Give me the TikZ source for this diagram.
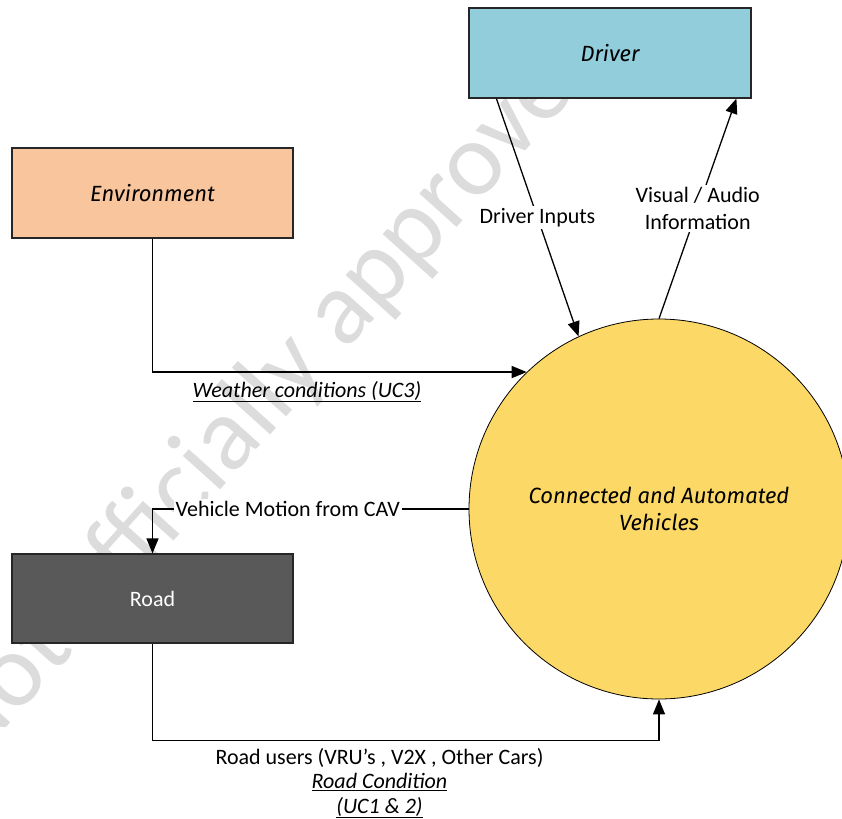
\documentclass[tikz,border=0pt]{standalone}
\usepackage{fontspec}
\setmainfont{Carlito}
\newfontfamily\boxfont{Fira Sans}
\usetikzlibrary{arrows.meta,calc}

\definecolor{driverblue}{HTML}{92CDDC}
\definecolor{envpeach}{HTML}{F8C59C}
\definecolor{roadgray}{HTML}{595959}
\definecolor{cavyellow}{HTML}{FCD866}
\definecolor{wmgray}{HTML}{DCDCDC}

\begin{document}
\begin{tikzpicture}[x=1pt,y=-1pt,
  box/.style={draw=black!85, line width=1.2pt, minimum width=281pt,
    minimum height=90pt, inner sep=0pt},
  boxtext/.style={font=\boxfont\itshape\fontsize{22}{27}\selectfont},
  lbl/.style={font=\fontsize{22}{27}\selectfont, inner sep=2pt},
  whitelbl/.style={lbl, fill=white},
  flow/.style={line width=1.3pt, -{Triangle[length=15pt,width=12pt]}},
  plain/.style={line width=1.3pt}]

\useasboundingbox (0,0) rectangle (842,818);

% faint watermark lettering behind the diagram
\begin{scope}
  \clip (0,0) rectangle (842,818);
  \node[rotate=48, anchor=base west, inner sep=0pt, text=wmgray,
        font=\fontsize{105}{105}\selectfont] (wm) at (-30,768)
        {Not officially approved};
\end{scope}

% entities
\node[box, fill=driverblue, minimum width=282pt, boxtext] (driver) at (610,53) {Driver};
\node[box, fill=envpeach, boxtext] (env) at (152.5,193) {Environment};
\node[box, fill=roadgray, minimum height=89pt, text=white, lbl] (road) at (152.5,598.5) {Road};
\node[circle, draw=black, line width=0.8pt, fill=cavyellow, minimum size=380pt,
      inner sep=0pt, align=center, boxtext] (cav) at (659,509)
      {Connected and Automated\\Vehicles};

% flows
\draw[flow] (env.south) |- (cav.134.4);
\node[lbl, anchor=base] (weather) at (307,397) {\itshape\underline{Weather conditions (UC3)}};

\draw[flow] ($(driver.south west)+(28,0)$)
  -- node[whitelbl] (dinp) {Driver Inputs} (cav.115.5);

\draw[flow] (cav.north)
  -- node[whitelbl, align=center] (vis) {Visual / Audio\\Information}
  ($(driver.south west)+(268,0)$);

\draw[flow] (cav.west)
  -| node[whitelbl, pos=0.286] (vmot) {Vehicle Motion from CAV} (road.north);

\draw[flow] (road.south) |- ($(cav.south)+(0,41)$) -- (cav.south);
\node[lbl, anchor=base] (ru1) at (379.5,764) {Road users (VRU’s , V2X , Other Cars)};
\node[lbl, anchor=base] (ru2) at (379.5,788.5) {\itshape\underline{Road Condition}};
\node[lbl, anchor=base] (ru3) at (379.5,813) {\itshape\underline{(UC1 \& 2)}};

\end{tikzpicture}
\end{document}
